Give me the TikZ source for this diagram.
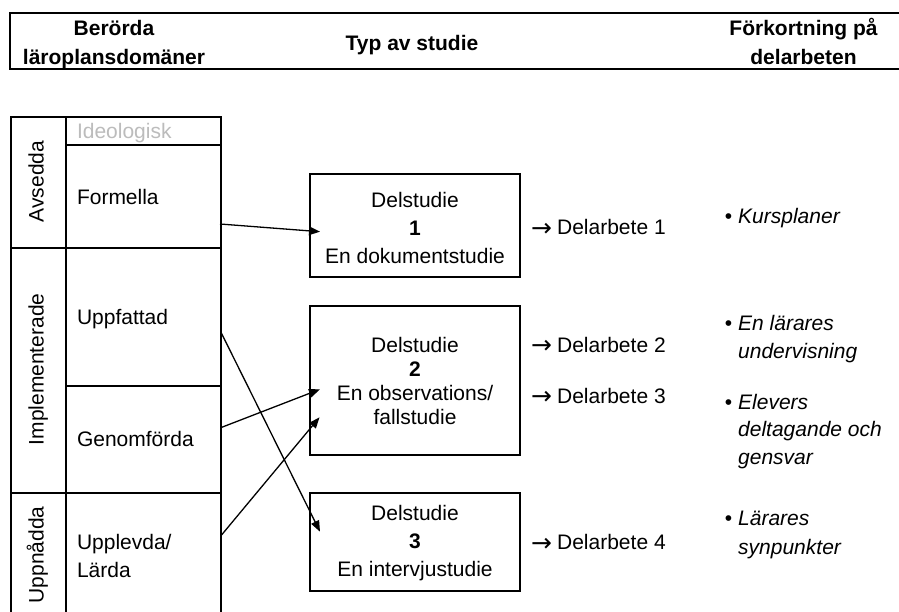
\documentclass[tikz,border=0pt]{standalone}
\usepackage{fontspec}
\setmainfont{Liberation Sans}
\newfontfamily\arrowfont{DejaVu Sans}
\usetikzlibrary{arrows.meta}
\definecolor{idgray}{RGB}{188,188,188}
\newcommand{\rarr}{\raisebox{-1.5pt}{\arrowfont\fontsize{25}{28}\selectfont →}\hspace{5pt}}
\begin{document}
\begin{tikzpicture}[x=1pt,y=-1pt,
  txt/.style={font=\fontsize{21}{28}\selectfont, inner sep=0pt},
  itxt/.style={font=\itshape\fontsize{21}{28}\selectfont, inner sep=0pt, anchor=base west},
  hdr/.style={font=\bfseries\fontsize{21}{28}\selectfont, inner sep=0pt, anchor=base},
  tcell/.style={draw, line width=2pt, anchor=north west, minimum width=155pt, inner ysep=0pt, inner xsep=11pt, text width=133pt, align=left, font=\fontsize{21}{28}\selectfont},
  lcell/.style={draw, line width=2pt, inner sep=0pt, anchor=north west, minimum width=55pt},
  rot/.style={font=\fontsize{21}{28}\selectfont, inner sep=0pt, rotate=90, anchor=base},
  box/.style={draw, line width=2pt, minimum width=210pt, inner sep=0pt},
  boxtxt/.style={align=center, inner sep=0pt, font=\fontsize{21}{28}\selectfont},
  arr/.style={line width=1.3pt, -{Triangle[length=11pt,width=8.5pt]}}
]
\useasboundingbox (0,0) rectangle (899,612);
\fill[white] (0,0) rectangle (899,612);

% header band
\draw[line width=2pt] (10,13.3) rectangle (915,69);
\node[hdr] (h1a) at (114,36) {Berörda};
\node[hdr] (h1b) at (114,64.5) {läroplansdomäner};
\node[hdr] (h2) at (412,51) {Typ av studie};
\node[hdr] (h3a) at (803.5,36) {Förkortning på};
\node[hdr] (h3b) at (803.5,64.5) {delarbeten};

% left column cells
\node[lcell, minimum height=131pt] (avsedda) at (10,116) {};
\node[lcell, minimum height=244.7pt] (impl) at (10,247) {};
\node[lcell, minimum height=126.3pt] (uppn) at (10,491.7) {};
\node[rot] (avsedda-l) at (43.5,181.5) {Avsedda};
\node[rot] (impl-l) at (43.5,369.4) {Implementerade};
\node[rot] (uppn-l) at (43.5,554.9) {Uppnådda};

\node[tcell, text depth=0pt, minimum height=28.5pt, text=idgray] (ideo) at (65,116) {Ideologisk};
\node[tcell, text depth=0pt, minimum height=102.5pt] (formella) at (65,144.5) {Formella};
\node[tcell, text depth=0pt, minimum height=138pt] (uppf) at (65,247) {Uppfattad};
\node[tcell, text depth=0pt, minimum height=106.7pt] (genom) at (65,385) {Genomförda};
\node[tcell, minimum height=126.3pt] (uppl) at (65,491.7) {Upplevda/\\Lärda};

% study boxes
\node[box, minimum height=102.7pt] (d1) at (415,225.35) {};
\node[box, minimum height=149pt] (d2) at (415,380.5) {};
\node[box, minimum height=98pt] (d3) at (415,541.7) {};
\node[boxtxt] (d1-t) at (415,227.8) {Delstudie\\\textbf{1}\\En dokumentstudie};
\node[boxtxt, font=\fontsize{21}{24.2}\selectfont] (d2-t) at (415,381) {Delstudie\\\textbf{2}\\En observations/\\fallstudie};
\node[boxtxt] (d3-t) at (415,543.5) {Delstudie\\\textbf{3}\\En intervjustudie};

% connectors
\coordinate (f-out) at (220,224);
\coordinate (u-out) at (220.7,331.7);
\coordinate (g-out) at (220.7,427.7);
\coordinate (l-out) at (220.7,536);
\coordinate (d1-in) at (320,231.7);
\coordinate (d2-ina) at (320,389.3);
\coordinate (d2-inb) at (319.5,417.3);
\coordinate (d3-in) at (320,531.7);
\draw[arr] (f-out) -- (d1-in);
\draw[arr] (u-out) -- (d3-in);
\draw[arr] (g-out) -- (d2-ina);
\draw[arr] (l-out) -- (d2-inb);

% delarbeten
\node[txt, anchor=base west] (da1) at (531,235) {\rarr Delarbete 1};
\node[txt, anchor=base west] (da2) at (531,352) {\rarr Delarbete 2};
\node[txt, anchor=base west] (da3) at (531,403) {\rarr Delarbete 3};
\node[txt, anchor=base west] (da4) at (531,549.5) {\rarr Delarbete 4};

% abbreviations
\node[txt, anchor=base] (bu1) at (728.5,223.5) {•};
\node[itxt] (k1) at (738,223.5) {Kursplaner};
\node[txt, anchor=base] (bu2) at (728.5,330.2) {•};
\node[itxt] (k2a) at (738,330.2) {En lärares};
\node[itxt] (k2b) at (738,358.2) {undervisning};
\node[txt, anchor=base] (bu3) at (728.5,409.2) {•};
\node[itxt] (k3a) at (738,409.2) {Elevers};
\node[itxt] (k3b) at (738,436.8) {deltagande och};
\node[itxt] (k3c) at (738,464.2) {gensvar};
\node[txt, anchor=base] (bu4) at (728.5,525.8) {•};
\node[itxt] (k4a) at (738,525.8) {Lärares};
\node[itxt] (k4b) at (738,554.2) {synpunkter};
\end{tikzpicture}
\end{document}
